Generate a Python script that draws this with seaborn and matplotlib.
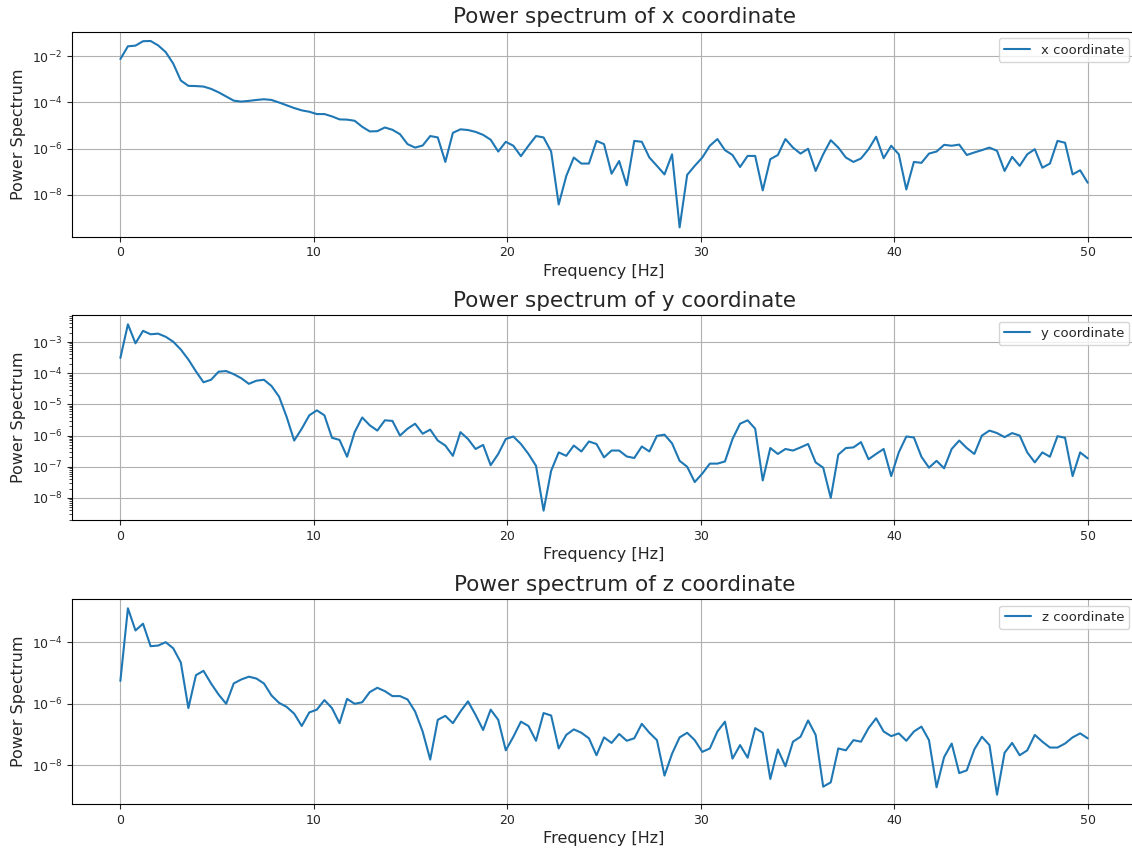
import numpy as np
import pandas as pd
import matplotlib
matplotlib.use("Agg")
import matplotlib.pyplot as plt
from matplotlib.ticker import LogLocator, NullLocator, FixedLocator
import seaborn as sns

# Frequency bins of the one-sided spectrum (fs = 100 Hz, 256-sample segments)
freqs = np.linspace(0, 50, 129)

# log10 of the power spectral density for each coordinate
log_psd_x = [
    -2.13, -1.58, -1.55, -1.36, -1.35, -1.54, -1.83, -2.33, -3.06, -3.29,
    -3.30, -3.32, -3.42, -3.57, -3.75, -3.93, -3.97, -3.94, -3.90, -3.87,
    -3.90, -4.01, -4.13, -4.25, -4.35, -4.41, -4.51, -4.51, -4.61, -4.74,
    -4.75, -4.80, -5.06, -5.26, -5.25, -5.09, -5.19, -5.38, -5.81, -5.96,
    -5.87, -5.46, -5.52, -6.58, -5.32, -5.17, -5.20, -5.28, -5.41, -5.62,
    -6.13, -5.71, -5.88, -6.33, -5.88, -5.46, -5.52, -6.13, -8.42, -7.19,
    -6.39, -6.65, -6.65, -5.67, -5.81, -7.09, -6.54, -7.59, -5.67, -5.71,
    -6.39, -6.75, -7.12, -6.25, -9.41, -7.14, -6.75, -6.39, -5.88, -5.59,
    -6.07, -6.28, -6.80, -6.32, -6.32, -7.81, -6.46, -6.28, -5.59, -5.96,
    -6.22, -6.01, -6.97, -6.25, -5.64, -5.96, -6.39, -6.58, -6.43, -6.03,
    -5.49, -6.42, -5.88, -6.25, -7.77, -6.58, -6.62, -6.22, -6.13, -5.84,
    -5.88, -5.83, -6.28, -6.17, -6.07, -5.96, -6.10, -6.97, -6.36, -6.75,
    -6.25, -6.03, -6.83, -6.65, -5.67, -5.75, -7.12, -6.94, -7.48,
]
log_psd_y = [
    -3.51, -2.43, -3.04, -2.64, -2.75, -2.73, -2.83, -2.99, -3.24, -3.56,
    -3.94, -4.29, -4.21, -3.95, -3.93, -4.03, -4.16, -4.34, -4.24, -4.21,
    -4.41, -4.75, -5.40, -6.16, -5.78, -5.35, -5.19, -5.35, -6.07, -6.14,
    -6.68, -5.89, -5.42, -5.67, -5.84, -5.51, -5.53, -6.00, -5.78, -5.62,
    -5.94, -5.81, -6.16, -6.32, -6.65, -5.89, -6.11, -6.43, -6.30, -6.95,
    -6.59, -6.11, -6.03, -6.27, -6.59, -6.97, -8.41, -7.13, -6.54, -6.65,
    -6.32, -6.51, -6.19, -6.27, -6.70, -6.48, -6.48, -6.67, -6.72, -6.35,
    -6.51, -6.01, -5.97, -6.25, -6.81, -7.00, -7.49, -7.22, -6.90, -6.90,
    -6.83, -6.11, -5.62, -5.51, -5.78, -7.44, -6.40, -6.59, -6.43, -6.48,
    -6.38, -6.27, -6.86, -7.03, -8.00, -6.61, -6.40, -6.38, -6.21, -6.76,
    -6.59, -6.43, -7.30, -6.54, -6.03, -6.06, -6.68, -7.03, -6.81, -7.05,
    -6.43, -6.16, -6.40, -6.59, -6.00, -5.84, -5.92, -6.05, -5.92, -6.00,
    -6.54, -6.86, -6.54, -6.68, -6.02, -6.07, -7.30, -6.54, -6.73,
]
log_psd_z = [
    -5.26, -2.90, -3.62, -3.40, -4.13, -4.11, -4.00, -4.20, -4.66, -6.14,
    -5.07, -4.93, -5.34, -5.70, -6.00, -5.34, -5.21, -5.12, -5.18, -5.34,
    -5.73, -5.97, -6.10, -6.32, -6.72, -6.28, -6.19, -5.88, -6.14, -6.63,
    -5.84, -6.00, -5.95, -5.62, -5.48, -5.59, -5.75, -5.75, -5.86, -6.25,
    -6.90, -7.81, -6.52, -6.39, -6.63, -6.25, -5.92, -6.36, -6.85, -6.19,
    -6.52, -7.51, -7.07, -6.58, -6.72, -7.20, -6.30, -6.38, -7.45, -7.01,
    -6.83, -6.94, -7.12, -7.67, -7.09, -7.27, -6.98, -7.20, -7.12, -6.65,
    -6.94, -7.18, -8.33, -7.62, -7.09, -6.94, -7.18, -7.56, -7.45, -6.90,
    -6.58, -7.78, -7.34, -7.75, -6.79, -6.94, -8.44, -7.48, -8.03, -7.23,
    -7.07, -6.54, -7.01, -8.69, -8.55, -7.45, -7.51, -7.18, -7.23, -6.79,
    -6.47, -6.90, -7.05, -6.96, -7.20, -6.90, -6.74, -7.18, -8.71, -7.73,
    -7.29, -8.25, -8.16, -7.48, -7.07, -7.34, -8.95, -7.59, -7.27, -7.67,
    -7.51, -7.01, -7.23, -7.42, -7.42, -7.29, -7.09, -6.96, -7.12,
]

coords = ["x", "y", "z"]
series = [log_psd_x, log_psd_y, log_psd_z]
# labelled decades on each panel's log axis
y_major = [
    [1e-2, 1e-4, 1e-6, 1e-8],
    [1e-3, 1e-4, 1e-5, 1e-6, 1e-7, 1e-8],
    [1e-4, 1e-6, 1e-8],
]
show_minor = [False, True, False]

sns.set_style("ticks")
plt.rcParams["font.family"] = ["DejaVu Sans"]
plt.rcParams["axes.edgecolor"] = "black"

fig = plt.figure(figsize=(11.32, 8.49), dpi=100)

# axes boxes (left, bottom, width, height) in figure fractions
boxes = [
    (0.0636, 0.7212, 0.9400, 0.2415),
    (0.0636, 0.3875, 0.9400, 0.2415),
    (0.0636, 0.0530, 0.9400, 0.2415),
]

for name, logp, box, majors, minor in zip(coords, series, boxes, y_major, show_minor):
    ax = fig.add_axes(box)
    df = pd.DataFrame({"Frequency": freqs, "Power": np.power(10.0, logp)})
    sns.lineplot(data=df, x="Frequency", y="Power", ax=ax,
                 color="#1f77b4", linewidth=1.5, label=f"{name} coordinate")
    ax.set_yscale("log")
    ax.yaxis.set_major_locator(FixedLocator(majors))
    if minor:
        ax.yaxis.set_minor_locator(LogLocator(base=10, subs=np.arange(2, 10), numticks=50))
    else:
        ax.yaxis.set_minor_locator(NullLocator())
    ax.grid(True, which="major", color="#b0b0b0", linewidth=0.8)
    ax.set_xticks([0, 10, 20, 30, 40, 50])
    ax.set_title(f"Power spectrum of {name} coordinate", fontsize=15.5, x=0.519)
    ax.set_xlabel("Frequency [Hz]", fontsize=11.5, labelpad=3)
    ax.set_ylabel("Power Spectrum", fontsize=11.5)
    ax.tick_params(axis="both", which="major", labelsize=9, length=3.5)
    ax.tick_params(axis="y", which="minor", length=2)
    ax.legend(loc="upper right", fontsize=9.5, frameon=True)

fig.savefig("out.png", dpi=100)
